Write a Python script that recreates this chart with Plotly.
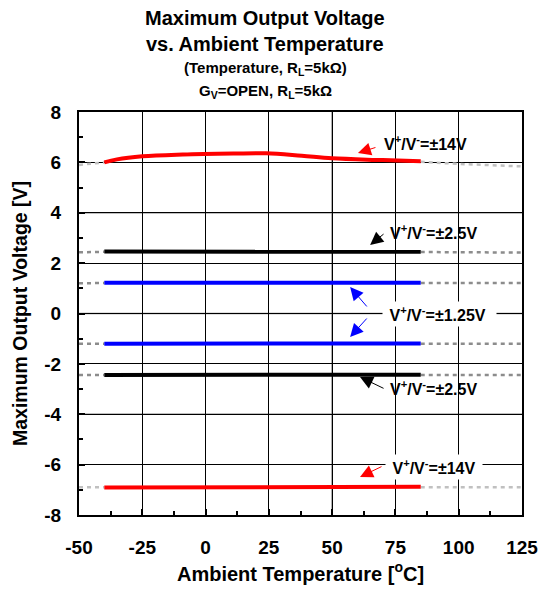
import plotly.graph_objects as go

# ---- data ----
temp_red = [-40, -35, -25, -9, 11, 24, 38, 50, 70, 85]
v14_pos = [6.00, 6.12, 6.24, 6.31, 6.35, 6.36, 6.26, 6.16, 6.09, 6.04]
temp = [-40, 85]
v14_neg = [-6.91, -6.88]
v2p5_pos = [2.46, 2.45]
v2p5_neg = [-2.44, -2.43]
v1p25_pos = [1.22, 1.22]
v1p25_neg = [-1.20, -1.19]

ext_left_t = [-50, -40]
ext_right_t = [85, 100, 125]
ext14p_left = [5.90, 6.00]
ext14p_right = [6.02, 5.94, 5.84]
ext14n_left = [-6.90, -6.90]
ext14n_right = [-6.90, -6.90, -6.90]
ext25p_left = [2.43, 2.45]
ext25p_right = [2.44, 2.43, 2.42]
ext25n_left = [-2.44, -2.44]
ext25n_right = [-2.44, -2.44, -2.44]
ext125p_left = [1.20, 1.21]
ext125p_right = [1.21, 1.21, 1.21]
ext125n_left = [-1.20, -1.20]
ext125n_right = [-1.20, -1.20, -1.20]

x_ticks = [-50, -25, 0, 25, 50, 75, 100, 125]
y_ticks = [-8, -6, -4, -2, 0, 2, 4, 6, 8]
gray_grid_x = [50]
gray_grid_y = [4, 0, -4]

FONT = "Arial, Liberation Sans, sans-serif"
RED = "#ff0000"
BLUE = "#0000ff"
BLACK = "#000000"
LGRAY = "#c0c0c0"
DGRAY = "#8c8c8c"

# page has an 8px body margin; compensate so plot area sits at 79..522 x 112..515
W, H = 543, 585
L, R, T, B = 71, 29, 104, 78
PW, PH = W - L - R, H - T - B
OFF = 8

fig = go.Figure()

def ext(xs, ys, color):
    fig.add_trace(go.Scatter(x=xs, y=ys, mode="lines",
                             line=dict(color=color, width=2.5, dash="4px,4px"),
                             showlegend=False, hoverinfo="skip"))

ext(ext_left_t, ext14p_left, LGRAY)
ext(ext_right_t, ext14p_right, LGRAY)
ext(ext_left_t, ext14n_left, LGRAY)
ext(ext_right_t, ext14n_right, LGRAY)
for l, r in [(ext25p_left, ext25p_right), (ext25n_left, ext25n_right),
             (ext125p_left, ext125p_right), (ext125n_left, ext125n_right)]:
    ext(ext_left_t, l, DGRAY)
    ext(ext_right_t, r, DGRAY)

def main(xs, ys, color, shape="linear"):
    fig.add_trace(go.Scatter(x=xs, y=ys, mode="lines",
                             line=dict(color=color, width=4, shape=shape,
                                       smoothing=1.0 if shape == "spline" else None),
                             showlegend=False))

main(temp_red, v14_pos, RED, "spline")
main(temp, v14_neg, RED)
main(temp, v2p5_pos, BLACK)
main(temp, v2p5_neg, BLACK)
main(temp, v1p25_pos, BLUE)
main(temp, v1p25_neg, BLUE)

# gray gridlines overlay
for gx in gray_grid_x:
    fig.add_shape(type="line", x0=gx, x1=gx, y0=0, y1=1, xref="x", yref="paper",
                  line=dict(color="#7f7f7f", width=1.5), layer="below")
for gy in gray_grid_y:
    fig.add_shape(type="line", x0=0, x1=1, y0=gy, y1=gy, xref="paper", yref="y",
                  line=dict(color="#7f7f7f", width=1.5), layer="below")

lbl_font = dict(family=FONT, size=16, color="black")

def label(text, x, y, pad=0):
    fig.add_annotation(x=x, y=y, xref="x", yref="y", text="<b>" + text + "</b>",
                       showarrow=False, font=lbl_font,
                       bgcolor="white" if pad else None, borderpad=pad)

def arrow(x, y, ax, ay, color):
    fig.add_annotation(x=x, y=y, ax=ax, ay=ay, xref="x", yref="y",
                       axref="x", ayref="y", text="", showarrow=True,
                       arrowhead=2, arrowsize=2.6, arrowwidth=1, arrowcolor=color)

lab = "V<sup>+</sup>/V<sup>-</sup>=±"
label(lab + "14V", 86.7, 6.77)
arrow(60.2, 6.37, 67.7, 6.61, RED)
label(lab + "2.5V", 89.9, 3.24)
arrow(65.0, 2.72, 70.9, 3.20, BLACK)
label(" " + lab + "1.25V  ", 92.3, 0.0, pad=2)
arrow(57.1, 1.05, 64.2, 0.22, BLUE)
arrow(57.1, -0.93, 64.2, -0.14, BLUE)
label(lab + "2.5V", 89.9, -2.96)
arrow(61.0, -2.52, 70.9, -3.0, BLACK)
label(" " + lab + "14V ", 90.3, -6.09, pad=2)
arrow(61.0, -6.49, 70.1, -6.05, RED)

# titles (screen pixel centers converted to paper coords)
def px_x(sx):
    return (sx - OFF - L) / PW

def px_y(sy):
    return 1 + (T - (sy - OFF)) / PH

title_lines = [("Maximum Output Voltage<br>vs. Ambient Temperature", 31, 20),
               ("(Temperature, R<sub>L</sub>=5kΩ)", 68, 15),
               ("G<sub>V</sub>=OPEN, R<sub>L</sub>=5kΩ", 92, 15)]
for txt, yc, sz in title_lines:
    fig.add_annotation(x=px_x(265), y=px_y(yc), xref="paper", yref="paper",
                       text="<b>" + txt + "</b>", showarrow=False,
                       font=dict(family=FONT, size=sz, color="black"),
                       xanchor="center", yanchor="middle")

fig.update_layout(
    width=W, height=H,
    margin=dict(l=L, r=R, t=T, b=B),
    paper_bgcolor="white", plot_bgcolor="white",
    font=dict(family=FONT, color="black"),
    showlegend=False,
)

fig.update_xaxes(
    range=[-50, 125], tickvals=x_ticks, ticktext=[str(v) for v in x_ticks],
    showgrid=True, gridcolor="black", gridwidth=1,
    showline=True, linecolor="black", linewidth=2, mirror=True,
    ticks="inside", ticklen=6, tickcolor="black", tickwidth=1.5,
    minor=dict(dtick=12.5, tick0=-50, ticks="inside", ticklen=4, tickcolor="black", showgrid=False),
    tickfont=dict(family=FONT, size=19, color="black", weight="bold"),
    ticklabelstandoff=14, zeroline=False,
    title=dict(text="<b>Ambient Temperature [<sup>o</sup>C]</b>",
               font=dict(family=FONT, size=20, color="black"), standoff=10),
)
fig.update_yaxes(
    range=[-8, 8], tickvals=y_ticks, ticktext=[str(v) for v in y_ticks],
    showgrid=True, gridcolor="black", gridwidth=1,
    showline=True, linecolor="black", linewidth=2, mirror=True,
    ticks="inside", ticklen=6, tickcolor="black", tickwidth=1.5,
    minor=dict(dtick=1, tick0=-8, ticks="inside", ticklen=4, tickcolor="black", showgrid=False),
    tickfont=dict(family=FONT, size=19, color="black", weight="bold"),
    ticklabelstandoff=12, zeroline=False,
    title=dict(text="<b>Maximum Output Voltage [V]</b>",
               font=dict(family=FONT, size=19.5, color="black"), standoff=11),
)

fig.write_html("out.html")
